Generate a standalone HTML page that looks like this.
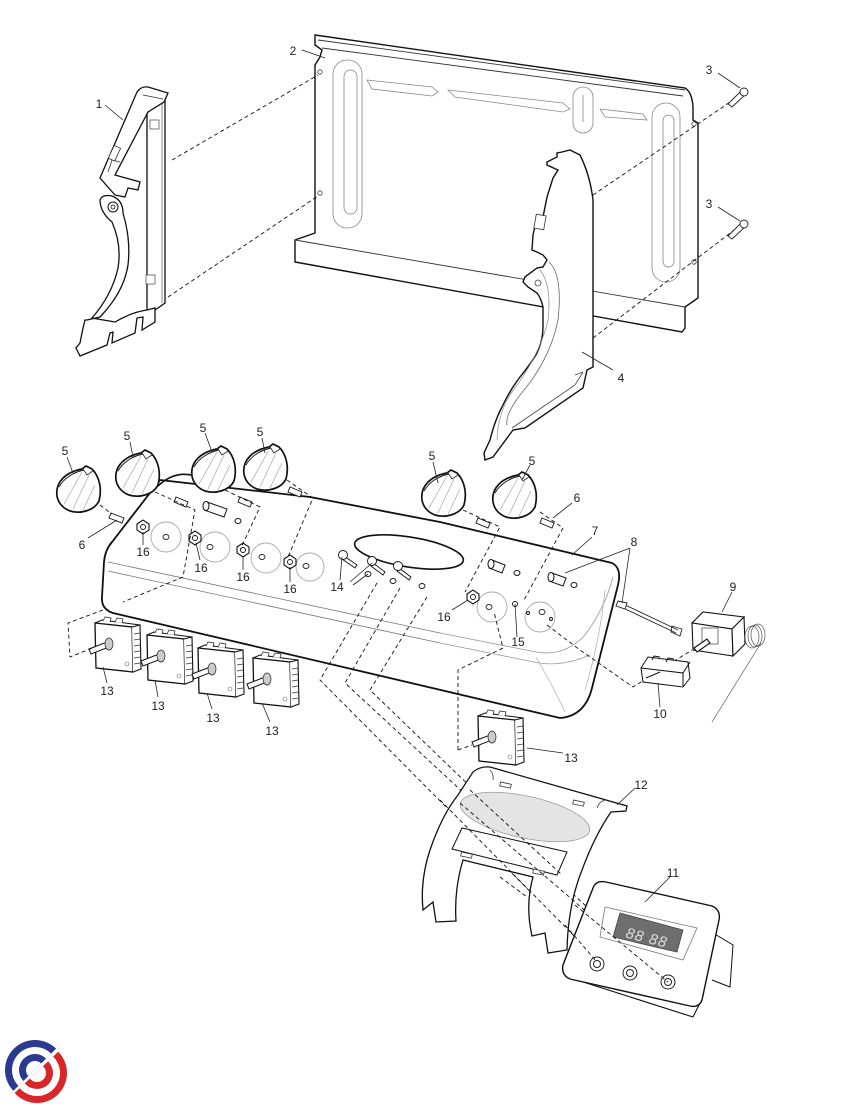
<!DOCTYPE html>
<html><head><meta charset="utf-8"><style>
html,body{margin:0;padding:0;background:#fff;}
svg{display:block;}
text{font-family:"Liberation Sans",sans-serif;font-size:12px;fill:#222;}
</style></head><body>
<svg width="846" height="1104" viewBox="0 0 846 1104" xmlns="http://www.w3.org/2000/svg">
<defs>
<g id="knob">
 <path d="M-21,6 C-23,-8 -12,-18 4,-21 L8,-24 L14,-21 C22,-13 24,0 21,11 C16,21 2,24 -8,21 C-16,18 -20,12 -21,6 Z" fill="#fff" stroke="#111" stroke-width="1.7"/>
 <path d="M-19,-3 C-14,-12 -4,-18 6,-20" fill="none" stroke="#111" stroke-width="0.9"/>
 <path d="M-14,14 L4,-18 M-5,19 L11,-15 M5,20 L17,-5" stroke="#999" stroke-width="0.6"/>
 <path d="M5,-21 L9,-15 L15,-19" fill="none" stroke="#222" stroke-width="0.8"/>
</g>
<g id="sw">
 <path d="M0,3 L37,7 L38,52 L1,48 Z" fill="#fff" stroke="#111" stroke-width="1.3"/>
 <path d="M37,7 L45,5 L46,49 L38,52" fill="#fff" stroke="#111" stroke-width="1.1"/>
 <path d="M0,3 L7,0 L45,5" fill="none" stroke="#111" stroke-width="1"/>
 <path d="M8,1 L10,-3 L16,-2 L15,2 M20,2 L22,-2 L28,-1 L27,3" fill="#fff" stroke="#333" stroke-width="0.8"/>
 <path d="M39,14 L45,13 M39,20 L45,19 M39,26 L45,25 M39,32 L45,31 M39,38 L45,37 M39,44 L45,43" stroke="#333" stroke-width="0.8"/>
 <path d="M-6,29 L12,22 L14,27 L-4,34 Z" fill="#fff" stroke="#111" stroke-width="1"/>
 <ellipse cx="14" cy="24" rx="4" ry="6" fill="#ccc" stroke="#333" stroke-width="0.8"/>
 <circle cx="32" cy="44" r="2" fill="none" stroke="#666" stroke-width="0.6"/>
</g>
<g id="nut">
 <polygon points="-6,-3 0,-7 6,-3 6,3 0,7 -6,3" fill="#fff" stroke="#111" stroke-width="1.1"/>
 <circle cx="0" cy="0" r="2.5" fill="none" stroke="#111" stroke-width="0.9"/>
</g>
<clipPath id="cb"><polygon points="0,1030 75,1030 0,1104"/></clipPath>
<clipPath id="cr"><polygon points="78,1033 78,1104 3,1104"/></clipPath>
</defs>

<!-- ===== PART 2 back panel ===== -->
<path d="M315,35 L685,88 Q692,92 693,107 L693,120 L698,123 L698,298 L685,307 L685,328 L682,332 L295,262 L295,240 L315,233 L315,65 L320,57 L322,50 L315,45 Z" fill="#fff" stroke="#111" stroke-width="1.4"/>
<path d="M318,40 L685,90 M322,48 L683,96" fill="none" stroke="#333" stroke-width="0.9"/>
<path d="M295,240 L685,307" fill="none" stroke="#333" stroke-width="0.9"/>
<g fill="none" stroke="#888" stroke-width="0.8">
 <rect x="333" y="60" width="29" height="168" rx="14"/>
 <rect x="344" y="70" width="13" height="144" rx="6.5"/>
 <rect x="652" y="103" width="28" height="179" rx="14"/>
 <rect x="663" y="115" width="11" height="152" rx="5.5"/>
 <rect x="573" y="87" width="20" height="46" rx="10"/>
 <line x1="583" y1="95" x2="583" y2="122"/>
 <path d="M367,80 L432,87 L438,92 L432,96 L372,89 Z"/>
 <path d="M448,90 L563,103 L570,109 L563,112 L455,97 Z"/>
 <path d="M600,109 L643,114 L647,120 L605,117 Z"/>
</g>
<g fill="#fff" stroke="#444" stroke-width="0.8">
 <circle cx="320" cy="72" r="2.2"/><circle cx="320" cy="193" r="2.2"/>
 <circle cx="694" cy="124" r="2.2"/><circle cx="694" cy="262" r="2.2"/>
</g>

<!-- ===== PART 4 right bracket ===== -->
<path d="M562,152 L570,150 L580,155 Q590,175 593,200 L593,367 L587,370 L583,388 L525,428 L513,430 L493,457 L485,460 L484,453 L490,440 Q495,420 502,407 Q510,390 520,377 Q532,362 537,353 Q543,340 543,327 L543,307 Q541,298 537,293 L528,287 L523,282 L525,277 L537,268 L543,267 L547,260 L543,255 L537,252 L532,250 L533,235 L537,217 L543,217 L547,197 L553,178 L558,170 L547,165 L547,162 L557,157 L557,153 Z" fill="#fff" stroke="#111" stroke-width="1.4"/>
<path d="M549,262 Q563,275 558,320 Q550,360 520,395 Q505,415 507,425" fill="none" stroke="#666" stroke-width="0.8"/>
<path d="M540,270 Q552,285 548,320 Q540,355 512,392 Q498,412 497,440" fill="none" stroke="#888" stroke-width="0.7"/>
<path d="M583,372 L575,385 L512,428 M575,375 L583,372" fill="none" stroke="#444" stroke-width="0.8"/>
<rect x="535" y="215" width="10" height="14" fill="#fff" stroke="#333" stroke-width="0.8" transform="rotate(10 540 222)"/>
<circle cx="538" cy="283" r="3" fill="none" stroke="#444" stroke-width="0.8"/>

<!-- ===== PART 1 left bracket ===== -->
<path d="M147,113 L165,97 L165,303 L155,310 L147,310 Z" fill="#fff" stroke="#111" stroke-width="1.3"/>
<line x1="162" y1="99" x2="162" y2="303" stroke="#555" stroke-width="0.7"/>
<path d="M137,92 Q141,86 148,87 L168,93 L164,102 L148,112 L115,175 L140,182 L138,190 L128,188 L125,197 L115,195 L100,178 Z" fill="#fff" stroke="#111" stroke-width="1.3"/>
<path d="M143,95 L163,99 M108,172 L112,160 L120,162" fill="none" stroke="#333" stroke-width="0.8"/>
<rect x="111" y="146" width="7" height="14" fill="#fff" stroke="#333" stroke-width="0.8" transform="rotate(25 114 153)"/>
<rect x="150" y="120" width="9" height="9" fill="#fff" stroke="#444" stroke-width="0.7"/>
<rect x="146" y="275" width="9" height="9" fill="#fff" stroke="#444" stroke-width="0.7"/>
<path d="M100,200 Q102,194 112,196 Q123,200 123,213 Q131,240 128,265 Q124,292 100,317 L87,320 L85,320 L83,328 L80,343 L76,348 L80,356 L107,345 L110,333 L113,332 L112,343 L135,333 L137,318 L143,317 L142,330 L155,322 L155,308 L147,310 Q132,312 115,322 L92,318 Q112,295 118,268 Q122,245 112,222 Q100,212 100,200 Z" fill="#fff" stroke="#111" stroke-width="1.3"/>
<circle cx="113" cy="207" r="5" fill="#fff" stroke="#111" stroke-width="1"/>
<circle cx="113" cy="207" r="2" fill="none" stroke="#111" stroke-width="0.8"/>

<!-- dashed lines upper -->
<g fill="none" stroke="#111" stroke-width="0.9" stroke-dasharray="4,3">
 <path d="M172,160 L318,75"/>
 <path d="M168,297 L318,196"/>
 <path d="M593,195 L742,94"/>
 <path d="M593,338 L742,224"/>
</g>
<!-- screws 3 -->
<g fill="#fff" stroke="#222" stroke-width="0.9">
 <path d="M728,104 L741,91 L745,95 L732,107 Z"/>
 <circle cx="744" cy="92" r="4"/>
 <path d="M728,236 L741,223 L745,227 L732,239 Z"/>
 <circle cx="744" cy="224" r="4"/>
</g>

<!-- ===== PART 7 control panel ===== -->
<path d="M160,480 L310,497 L440,522 L612,563 Q622,568 618,585 L592,688 Q585,716 560,718 L113,613 Q101,609 102,597 L104,562 Q105,550 112,542 Z" fill="#fff" stroke="#111" stroke-width="1.8"/>
<path d="M108,562 L440,633 M108,571 L440,643" fill="none" stroke="#777" stroke-width="0.8"/>
<path d="M440,633 L536,652 Q565,657 585,635 Q605,608 613,577 M440,643 L534,662 Q560,668 590,655" fill="none" stroke="#999" stroke-width="0.8"/>
<path d="M536,657 Q555,690 565,712 M605,590 Q600,640 585,690" fill="none" stroke="#aaa" stroke-width="0.7"/>
<ellipse cx="409" cy="552" rx="55" ry="15" transform="rotate(9 409 552)" fill="none" stroke="#111" stroke-width="1.6"/>

<!-- dial faces (gray arcs) -->
<g fill="none" stroke="#aaa" stroke-width="0.9">
 <circle cx="166" cy="537" r="15"/><circle cx="215" cy="547" r="15"/>
 <circle cx="266" cy="558" r="15"/><circle cx="310" cy="567" r="14"/>
 <circle cx="492" cy="607" r="15"/><circle cx="540" cy="617" r="15"/>
</g>
<g fill="#fff" stroke="#222" stroke-width="0.9">
 <ellipse cx="166" cy="537" rx="3" ry="2.5"/><ellipse cx="210" cy="547" rx="3" ry="2.5"/>
 <ellipse cx="262" cy="557" rx="3" ry="2.5"/><ellipse cx="306" cy="566" rx="3" ry="2.5"/>
 <ellipse cx="489" cy="607" rx="3" ry="2.5"/><ellipse cx="542" cy="612" rx="3" ry="2.5"/>
</g>
<use href="#nut" transform="translate(143,527)"/>
<use href="#nut" transform="translate(195,538)"/>
<use href="#nut" transform="translate(243,550)"/>
<use href="#nut" transform="translate(290,562)"/>
<use href="#nut" transform="translate(473,597)"/>

<!-- bushings -->
<g fill="#fff" stroke="#111" stroke-width="1">
 <path d="M207,502 L227,509 L224,517 L204,510 Z"/><ellipse cx="206" cy="506" rx="3" ry="4.5"/>
 <ellipse cx="238" cy="521" rx="3" ry="2.5"/>
 <path d="M492,560 L505,565 L502,573 L489,568 Z"/><ellipse cx="491" cy="564" rx="3" ry="4.5"/>
 <ellipse cx="517" cy="573" rx="3" ry="2.5"/>
 <path d="M552,573 L566,578 L563,586 L549,581 Z"/><ellipse cx="551" cy="577" rx="3" ry="4.5"/>
 <ellipse cx="574" cy="585" rx="3" ry="2.5"/>
</g>
<!-- pins 14 -->
<g fill="#fff" stroke="#111" stroke-width="0.9">
 <path d="M344,556 L357,565 L355,568 L342,559 Z"/><circle cx="343" cy="555" r="4.5"/>
 <path d="M373,563 L385,572 L383,575 L371,566 Z"/><circle cx="372" cy="561" r="4.5"/>
 <path d="M399,568 L411,577 L409,580 L397,571 Z"/><circle cx="398" cy="566" r="4.5"/>
 <ellipse cx="368" cy="574" rx="3" ry="2.5"/><ellipse cx="393" cy="581" rx="3" ry="2.5"/><ellipse cx="422" cy="586" rx="3" ry="2.5"/>
 <circle cx="515" cy="604" r="2.5"/><circle cx="528" cy="613" r="1.5"/><circle cx="551" cy="619" r="1.5"/>
</g>
<!-- pins 6 -->
<g fill="#fff" stroke="#111" stroke-width="0.9">
 <path d="M111,513 L124,518 L122,523 L109,518 Z"/>
 <path d="M176,497 L188,502 L186,507 L174,502 Z"/>
 <path d="M240,497 L252,502 L250,507 L238,502 Z"/>
 <path d="M290,487 L302,492 L300,497 L288,492 Z"/>
 <path d="M478,518 L490,523 L488,528 L476,523 Z"/>
 <path d="M542,518 L554,523 L552,528 L540,523 Z"/>
</g>

<!-- knobs -->
<use href="#knob" transform="translate(78,490)"/>
<use href="#knob" transform="translate(137,474)"/>
<path d="M158,486 Q175,470 195,476" fill="none" stroke="#111" stroke-width="1.6"/>
<use href="#knob" transform="translate(213,470)"/>
<use href="#knob" transform="translate(265,468)"/>
<use href="#knob" transform="translate(443,494)"/>
<use href="#knob" transform="translate(514,496)"/>

<!-- switches 13 -->
<use href="#sw" transform="translate(95,620)"/>
<use href="#sw" transform="translate(147,632)"/>
<use href="#sw" transform="translate(198,645)"/>
<use href="#sw" transform="translate(253,655)"/>
<use href="#sw" transform="translate(478,713)"/>

<!-- dashed lines lower -->
<g fill="none" stroke="#111" stroke-width="0.9" stroke-dasharray="4,3">
 <path d="M100,505 L112,514"/>
 <path d="M155,492 L195,510 L183,577 L123,602"/>
 <path d="M225,490 L260,507 L240,550"/>
 <path d="M287,480 L313,498 L288,557"/>
 <path d="M463,510 L500,527 L465,592"/>
 <path d="M540,512 L563,528 L524,600"/>
 <path d="M103,610 L68,623 L70,657 L95,647"/>
 <path d="M377,583 L320,680 L600,962"/>
 <path d="M400,588 L345,683 L668,982"/>
 <path d="M427,597 L370,690 L562,875"/>
 <path d="M500,877 L527,897"/>
 <path d="M458,750 L458,670 L503,648 L494,612"/>
 <path d="M458,750 L472,745"/>
 <path d="M547,625 L580,650 L633,687 L692,650"/>
</g>

<!-- ===== PART 8 probe ===== -->
<g fill="none" stroke="#222" stroke-width="0.9">
 <path d="M619,602 L678,630 M619,606 L676,633"/>
 <path d="M618,601 L627,603 L625,609 L616,606 Z" fill="#fff"/>
 <path d="M672,626 L682,629 L680,636 L671,632 Z"/>
</g>
<!-- ===== PART 9 thermostat ===== -->
<g fill="#fff" stroke="#111" stroke-width="1.1">
 <path d="M692,623 L703,612 L744,617 L732,629 Z"/>
 <path d="M692,623 L732,629 L733,656 L693,650 Z"/>
 <path d="M732,629 L744,617 L745,644 L733,656 Z"/>
 <rect x="702" y="628" width="16" height="16" fill="none" stroke="#555" stroke-width="0.8"/>
 <path d="M694,648 L707,639 L710,643 L697,652 Z"/>
</g>
<g fill="none" stroke="#555" stroke-width="0.7">
 <ellipse cx="752" cy="637" rx="7" ry="11"/><ellipse cx="755" cy="636" rx="7" ry="11"/><ellipse cx="758" cy="635" rx="7" ry="11"/>
 <path d="M761,643 L712,722"/>
</g>
<!-- ===== PART 10 ===== -->
<g fill="#fff" stroke="#111" stroke-width="1">
 <path d="M641,668 L648,657 L688,662 L690,678 L683,687 L643,682 Z"/>
 <path d="M641,668 L683,673 L683,687 M683,673 L690,662"/>
 <path d="M646,678 L660,672"/>
 <path d="M652,660 L654,656 L660,657 M666,662 L668,658 L674,659" fill="none"/>
</g>

<!-- ===== PART 12 trim ===== -->
<path d="M473,772 Q480,766 490,767 L627,806 L626,811 L611,812 Q595,835 582,870 Q568,905 567,950 L548,953 L545,933 L532,936 Q525,905 533,877 L463,860 Q454,890 456,921 L436,922 L433,902 L423,910 Q420,880 430,850 Q442,815 458,795 Z" fill="#fff" stroke="#111" stroke-width="1.3"/>
<ellipse cx="525" cy="817" rx="66" ry="21" transform="rotate(12 525 817)" fill="#e4e4e4" stroke="#999" stroke-width="0.8"/>
<path d="M462,828 L567,852 L557,875 L452,849 Z" fill="#fff" stroke="#111" stroke-width="1"/>
<g fill="#fff" stroke="#333" stroke-width="0.8">
 <rect x="500" y="783" width="11" height="4" transform="rotate(12 505 785)"/>
 <rect x="573" y="801" width="11" height="4" transform="rotate(12 578 803)"/>
 <rect x="461" y="853" width="11" height="4" transform="rotate(12 466 855)"/>
 <rect x="533" y="870" width="11" height="4" transform="rotate(12 538 872)"/>
</g>
<path d="M490,770 Q494,774 493,780 M597,808 Q600,800 607,800" fill="none" stroke="#333" stroke-width="0.8"/>
<!-- dashed through trim (drawn again on top) -->
<g fill="none" stroke="#111" stroke-width="0.9" stroke-dasharray="4,3">
 <path d="M440,800 L600,962"/>
 <path d="M460,803 L668,982"/>
 <path d="M470,790 L562,875"/>
</g>

<!-- ===== PART 11 display ===== -->
<path d="M567,967 L577,980 L693,1017 L700,1003" fill="#fff" stroke="#111" stroke-width="1.1"/>
<path d="M713,933 L733,945 L730,987 L712,980" fill="#fff" stroke="#111" stroke-width="1"/>
<path d="M593,888 Q596,880 606,882 L712,906 Q721,910 719,920 L702,1000 Q699,1008 690,1006 L570,979 Q561,975 563,965 Z" fill="#fff" stroke="#111" stroke-width="1.4"/>
<path d="M605,907 L697,928 L683,960 L600,937 Z" fill="none" stroke="#777" stroke-width="0.8"/>
<path d="M620,913 L683,930 L677,952 L613,937 Z" fill="#6e6e6e" stroke="#444" stroke-width="0.8"/>
<text x="626" y="941" transform="rotate(14 640 935)" style="font-size:15px;fill:#ddd;font-style:italic;letter-spacing:1px">88 88</text>
<g fill="#fff" stroke="#222" stroke-width="1">
 <circle cx="597" cy="964" r="7"/><circle cx="597" cy="964" r="3.5"/>
 <circle cx="630" cy="973" r="7"/><circle cx="630" cy="973" r="3.5"/>
 <circle cx="668" cy="982" r="7"/><circle cx="668" cy="982" r="3.5"/>
</g>
<g fill="none" stroke="#111" stroke-width="0.9" stroke-dasharray="4,3">
 <path d="M565,925 L597,962"/>
 <path d="M575,905 L668,982"/>
</g>

<!-- ===== Leaders ===== -->
<g fill="none" stroke="#222" stroke-width="0.8">
 <path d="M105,105 L123,120"/>
 <path d="M302,50 L325,58"/>
 <path d="M718,73 L740,88"/>
 <path d="M718,207 L740,221"/>
 <path d="M613,370 L582,352"/>
 <path d="M67,457 L73,473"/><path d="M130,442 L133,457"/><path d="M205,433 L212,452"/>
 <path d="M262,438 L265,453"/><path d="M433,462 L438,483"/><path d="M530,465 L522,480"/>
 <path d="M88,538 L117,520"/>
 <path d="M572,503 L553,518"/>
 <path d="M592,537 L572,555"/>
 <path d="M630,548 L565,573 M630,548 L622,603"/>
 <path d="M732,592 L722,612"/>
 <path d="M660,707 L658,683"/>
 <path d="M670,877 L645,902"/>
 <path d="M635,788 L617,805"/>
 <path d="M103,667 L107,683"/><path d="M155,680 L158,697"/><path d="M207,693 L212,709"/><path d="M262,703 L270,722"/>
 <path d="M563,753 L527,748"/>
 <path d="M340,580 L342,557 M350,582 L372,563 M353,585 L368,574"/>
 <path d="M517,637 L515,604"/>
 <path d="M143,545 L143,532"/><path d="M200,560 L196,543"/><path d="M243,570 L243,556"/><path d="M290,582 L290,567"/><path d="M452,610 L468,600"/>
</g>

<!-- ===== Labels ===== -->
<g text-anchor="middle">
 <text x="99" y="108">1</text>
 <text x="293" y="55">2</text>
 <text x="709" y="74">3</text>
 <text x="709" y="208">3</text>
 <text x="621" y="382">4</text>
 <text x="65" y="455">5</text>
 <text x="127" y="440">5</text>
 <text x="203" y="432">5</text>
 <text x="260" y="436">5</text>
 <text x="432" y="460">5</text>
 <text x="532" y="465">5</text>
 <text x="82" y="549">6</text>
 <text x="577" y="502">6</text>
 <text x="595" y="535">7</text>
 <text x="634" y="546">8</text>
 <text x="733" y="591">9</text>
 <text x="660" y="718">10</text>
 <text x="673" y="877">11</text>
 <text x="641" y="789">12</text>
 <text x="107" y="695">13</text>
 <text x="158" y="710">13</text>
 <text x="213" y="722">13</text>
 <text x="272" y="735">13</text>
 <text x="571" y="762">13</text>
 <text x="337" y="591">14</text>
 <text x="518" y="646">15</text>
 <text x="143" y="556">16</text>
 <text x="201" y="572">16</text>
 <text x="243" y="581">16</text>
 <text x="290" y="593">16</text>
 <text x="444" y="621">16</text>
</g>

<!-- ===== Logo ===== -->
<g clip-path="url(#cb)">
 <circle cx="35" cy="1070" r="30" fill="#2b3990"/>
 <circle cx="35" cy="1070" r="23" fill="#fff"/>
 <circle cx="35" cy="1070" r="16" fill="#2b3990"/>
 <circle cx="35" cy="1070" r="9" fill="#fff"/>
</g>
<g clip-path="url(#cr)">
 <circle cx="37" cy="1073" r="30" fill="#d8262b"/>
 <circle cx="37" cy="1073" r="23" fill="#fff"/>
 <circle cx="37" cy="1073" r="16" fill="#d8262b"/>
 <circle cx="37" cy="1073" r="9" fill="#fff"/>
</g>
</svg>
</body></html>
